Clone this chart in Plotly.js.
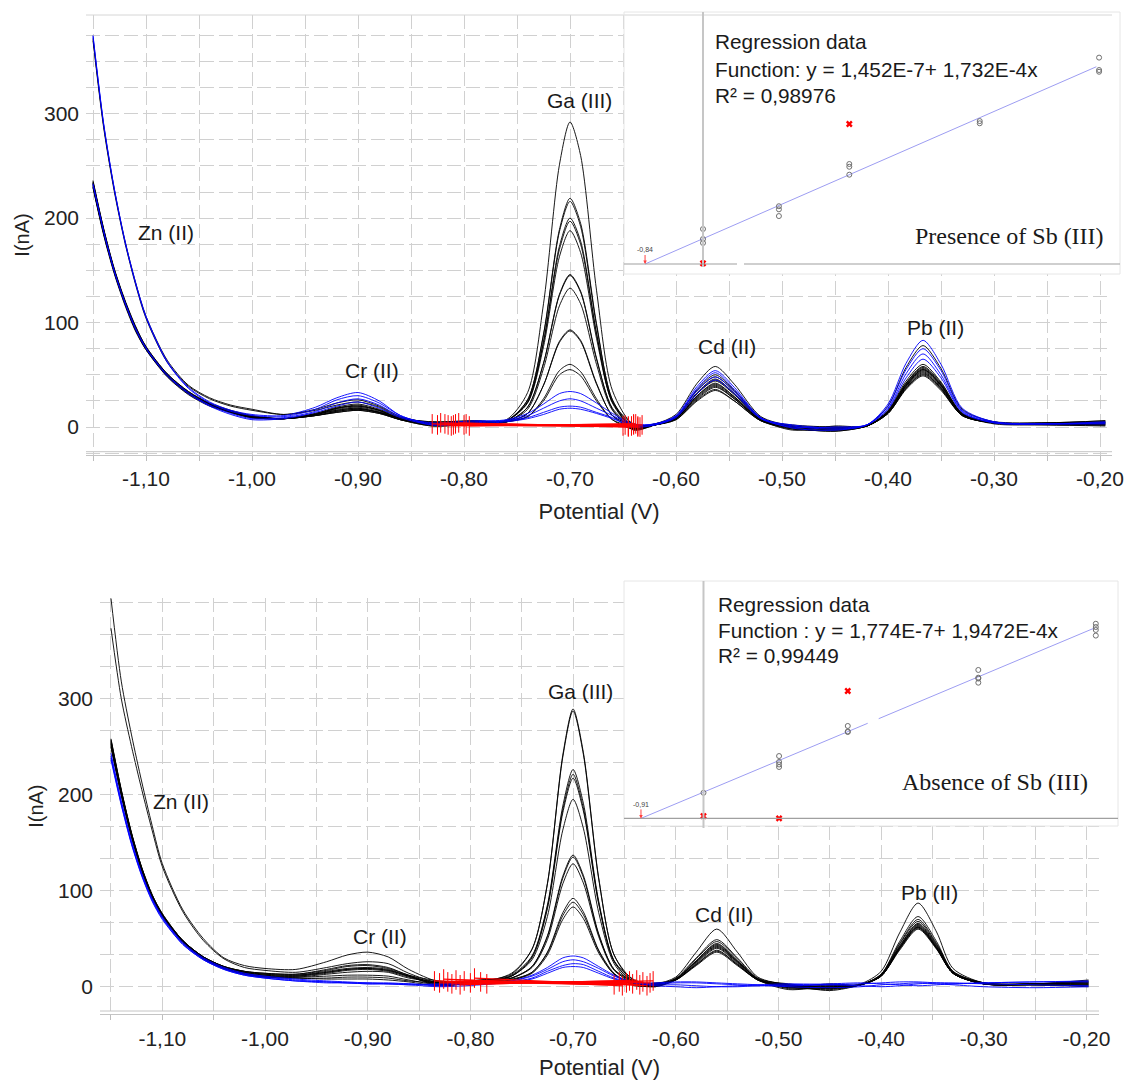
<!DOCTYPE html>
<html><head><meta charset="utf-8">
<script src="https://cdn.plot.ly/plotly-3.0.1.min.js"></script>
<style>html,body{margin:0;padding:0;background:#fff}#chart{width:1126px;height:1080px}</style>
</head><body><div id="chart"></div>
<script>
// ---------- potentials (V) at which each voltammogram was read ----------
const potentialTop = [-1.15,-1.14,-1.13,-1.12,-1.11,-1.10,-1.08,-1.06,-1.04,-1.02,-1.00,-0.97,-0.94,-0.92,-0.90,-0.88,-0.86,-0.83,-0.79,-0.76,-0.74,-0.725,-0.71,-0.70,-0.69,-0.675,-0.66,-0.64,-0.62,-0.60,-0.58,-0.563,-0.545,-0.52,-0.49,-0.45,-0.42,-0.40,-0.383,-0.367,-0.35,-0.33,-0.30,-0.25,-0.195];
const potentialBottom = [-1.15,-1.14,-1.13,-1.12,-1.11,-1.10,-1.08,-1.06,-1.04,-1.02,-1.00,-0.97,-0.94,-0.92,-0.90,-0.88,-0.86,-0.83,-0.79,-0.76,-0.74,-0.725,-0.71,-0.70,-0.69,-0.675,-0.66,-0.64,-0.62,-0.60,-0.58,-0.56,-0.54,-0.52,-0.49,-0.45,-0.42,-0.40,-0.382,-0.364,-0.346,-0.33,-0.30,-0.25,-0.198];

// ---------- top panel (presence of Sb(III)), current in nA ----------
const topBlack01 = [233,188,150,120,95,76,50,33,22,15,10, 8,12,18,20,16,8,3, 4,7,33,118,251,292,260,131,35,2, 3,12,42,58,41,10,1, -2,2,20,57,78,56,17,5,3,4];
const topBlack02 = [236,190,151,121,96,76,50,33,22,15,10, 8,13,19,22,17,9,4, 5,6,26,89,189,219,195,99,26,1, 3,10,36,50,35,9,0, -1,1,16,44,60,43,13,4,3,5];
const topBlack03 = [231,186,149,119,94,75,49,32,21,14,9, 8,12,17,19,15,8,2, 3,6,26,88,187,216,192,97,26,-2, 2,10,35,48,34,8,-2, -3,1,15,42,58,42,13,4,3,2];
const topBlack04 = [234,189,151,121,96,77,51,34,23,16,11, 8,12,16,18,14,8,5, 6,6,24,82,173,200,178,90,24,0, 2,9,32,45,32,8,1, 0,1,15,41,56,40,12,4,4,6];
const topBlack05 = [230,185,148,118,93,74,49,32,21,14,9, 8,13,18,21,16,8,3, 4,6,24,81,170,197,175,89,24,3, 2,9,32,44,31,7,-1, -4,1,14,40,55,40,12,4,3,3];
const topBlack06 = [235,190,152,122,97,77,51,34,22,15,10, 8,11,15,17,14,7,1, 3,6,23,77,163,188,167,85,23,-1, 2,8,30,42,29,7,0, -2,1,14,39,54,39,12,3,2,1];
const topBlack07 = [370,287,226,177,137,104,62,39,27,20,16, 12,17,23,26,20,10,4, 5,5,19,61,127,146,130,66,18,1, 2,8,30,41,29,7,-3, 1,1,14,39,53,38,12,4,4,5];
const topBlack08 = [232,187,149,119,94,75,50,33,22,15,10, 8,11,14,16,13,7,2, 4,5,19,61,126,145,129,65,17,-3, 2,8,29,40,28,7,1, -3,1,14,38,52,37,11,4,3,2];
const topBlack09 = [229,184,147,117,92,74,48,31,20,14,9, 8,12,18,20,16,8,3, 3,5,17,56,116,133,118,60,16,0, 2,8,27,38,27,6,-2, -1,1,13,37,50,36,11,4,3,4];
const topBlack10 = [372,289,228,179,139,106,64,40,28,21,17, 12,16,21,24,19,9,5, 6,5,13,40,82,93,83,42,11,2, 2,9,33,46,32,8,0, -2,1,15,42,57,41,12,5,4,6];
const topBlack11 = [234,188,150,120,95,76,50,33,22,15,10, 8,12,16,18,14,8,2, 4,5,13,40,81,92,82,41,11,-1, 2,8,28,39,27,7,2, 0,1,14,40,55,40,12,4,3,3];
const topBlack12 = [230,186,149,119,94,75,49,32,21,14,9, 8,11,15,17,14,7,4, 5,5,10,27,54,60,53,27,7,1, 2,7,26,36,25,6,-1, -4,1,13,37,51,37,11,4,2,2];
const topBlack13 = [233,187,150,120,95,76,50,33,22,15,10, 8,11,14,16,13,7,1, 3,5,10,25,50,55,49,25,7,-2, 2,7,25,35,25,6,0, -1,1,13,36,49,35,11,4,3,4];
const topBlue1 = [375,291,229,179,139,106,63,38,24,16,12, 11,19,28,33,25,11,3, 5,7,13,22,32,34,32,23,13,3, 3,11,39,54,38,9,1, -2,2,22,61,83,60,18,5,3,4];
const topBlue2 = [374,290,228,178,138,105,62,37,23,15,11, 10,17,26,30,23,11,2, 4,6,11,18,25,27,25,18,11,2, 3,10,37,52,36,9,-1, -3,2,20,55,75,54,16,5,3,4];
const topBlue3 = [233,188,150,120,95,76,50,33,21,13,8, 9,15,23,27,21,10,4, 6,6,9,14,19,20,19,14,9,0, 2,10,35,48,34,8,0, 0,2,18,51,70,50,15,4,3,5];
const topBlue4 = [232,187,149,119,94,75,49,32,20,12,7, 8,14,20,24,18,9,2, 3,5,8,12,17,18,17,13,8,1, 2,9,32,45,32,8,2, -1,2,17,47,65,47,14,4,3,3];
// peak-evaluation baselines (red)
const topRedStartV = [-0.830,-0.825,-0.822,-0.818,-0.815,-0.812,-0.808,-0.805,-0.800,-0.798,-0.795,-0.810];
const topRedEndV   = [-0.650,-0.648,-0.645,-0.642,-0.640,-0.638,-0.636,-0.634,-0.632,-0.645,-0.640,-0.636];
const topRedStartI = [3,2,4,3,2,1,3,4,2,3,1,2];
const topRedEndI   = [1,2,0,1,2,3,1,0,2,1,3,0];

// ---------- bottom panel (absence of Sb(III)), current in nA ----------
const botBlack01 = [404,318,262,213,168,128,80,50,30,22,19, 18,26,33,36,31,18,5, 5,14,39,107,241,289,244,113,33,6, 3,10,36,60,36,10,2, 0,3,16,56,87,57,19,4,3,4];
const botBlack02 = [373,300,250,205,163,125,78,48,29,20,17, 15,20,24,26,24,14,4, 6,13,39,107,239,287,242,112,33,4, 1,9,30,49,30,9,2, -2,2,13,47,73,47,16,4,3,3];
const botBlack03 = [258,205,160,124,96,76,48,31,21,16,14, 13,18,22,23,20,12,6, 4,12,32,85,188,226,191,89,27,7, 2,8,29,47,29,8,1, 1,2,13,45,70,45,16,4,3,5];
const botBlack04 = [256,204,159,123,95,75,48,31,21,16,14, 13,17,21,22,19,12,3, 7,11,31,83,184,221,186,87,27,3, 0,8,27,45,27,8,0, -3,2,12,44,68,44,15,4,2,2];
const botBlack05 = [254,203,158,122,95,75,47,30,20,15,13, 12,16,19,20,18,11,2, 5,11,30,81,181,217,183,86,26,5, 3,8,27,44,27,8,-1, 2,2,12,42,66,43,15,3,3,6];
const botBlack06 = [257,205,160,124,96,76,48,31,21,16,13, 12,15,18,19,17,11,4, 3,11,28,73,163,195,165,77,24,2, 1,8,26,43,26,8,3, -1,2,12,42,65,42,15,3,2,1];
const botBlack07 = [252,201,157,121,94,74,47,30,20,15,12, 11,15,18,19,17,11,1, 6,9,21,53,115,137,116,55,18,6, 2,8,26,42,26,8,-2, 0,2,12,41,64,41,14,3,3,4];
const botBlack08 = [255,203,159,123,95,75,48,31,21,15,12, 11,14,17,18,16,10,3, 4,9,21,52,113,135,114,54,18,3, 4,7,25,41,25,7,2, -4,2,11,40,63,41,14,3,2,0];
const botBlack09 = [253,202,158,122,94,74,47,30,20,14,11, 10,13,15,16,15,9,5, 5,9,20,49,107,128,108,52,17,5, 1,7,24,40,24,7,-3, 1,2,11,40,62,40,14,3,3,7];
const botBlack10 = [250,200,156,121,93,73,46,29,19,14,11, 10,11,12,12,11,7,2, 7,8,15,36,77,92,78,38,14,1, 2,7,23,38,23,7,1, -2,2,11,40,62,40,14,3,2,2];
const botBlack11 = [251,200,157,121,94,74,47,30,19,13,10, 9,9,10,10,9,6,4, 3,7,15,35,74,88,75,37,13,4, 0,7,23,37,23,7,0, 3,2,11,39,61,40,14,3,3,5];
const botBlack12 = [249,199,155,120,93,73,46,29,19,13,10, 9,8,8,8,7,5,1, 5,7,14,33,70,83,71,35,13,2, 3,7,22,36,22,7,-1, -1,2,11,38,60,39,14,3,2,3];
const botBlue1 = [240,192,150,117,91,72,45,29,19,13,10, 7,5,4,4,3,3,2, 3,6,12,20,30,32,30,21,12,4, 3,4,4,3,2,1,1, 2,3,4,5,5,4,3,4,5,6];
const botBlue2 = [238,190,149,116,90,71,44,28,18,12,9, 6,5,4,3,3,2,3, 4,6,11,18,26,28,26,19,11,4, 2,2,1,0,0,1,2, 3,4,3,2,1,2,3,4,5,5];
const botBlue3 = [236,189,148,115,89,70,44,28,18,12,9, 6,4,4,3,3,2,0, 2,5,9,16,22,24,23,16,9,4, 1,0,-1,0,1,2,3, 2,1,0,1,3,4,4,3,2,1];
const botBlue4 = [243,194,152,118,92,73,46,30,20,14,11, 8,6,5,4,4,3,1, 5,5,8,14,20,21,20,14,8,4, 4,5,5,4,3,2,0, -1,0,2,3,4,3,2,0,-1,0];
const botRedStartV = [-0.835,-0.830,-0.826,-0.822,-0.818,-0.814,-0.810,-0.806,-0.800,-0.796,-0.790,-0.784];
const botRedEndV   = [-0.660,-0.655,-0.652,-0.648,-0.645,-0.642,-0.638,-0.635,-0.632,-0.628,-0.625,-0.622];
const botRedStartI = [6,4,8,5,3,7,2,6,4,9,5,3];
const botRedEndI   = [2,5,1,4,6,3,7,2,5,1,4,6];

// ---------- standard-addition insets ----------
const topAddX = [0,0,0, 1.10,1.10,1.10, 2.12,2.12,2.12, 4.01,4.01, 5.74,5.74,5.74];
const topAddY = [203,145,122, 335,317,278, 580,564,518, 829,816, 1197,1125,1115];
const topOutX = [0, 2.12];
const topOutY = [4, 812];
const topFitX = [-0.84, 5.70];
const topFitY = [0, 1144];
const botAddX = [0, 1.10,1.10,1.10,1.10, 2.10,2.10,2.10, 4.00,4.00,4.00,4.00, 5.71,5.71,5.71,5.71];
const botAddY = [173, 421,381,364,347, 624,587,583, 1002,950,944,916, 1314,1292,1272,1234];
const botOutX = [0, 1.10, 2.10];
const botOutY = [16, 0, 860];
const botFitX = [-0.91, 2.39, null, 2.55, 5.69];
const botFitY = [0, 642, null, 673, 1285];

// ---------- tick labels & texts ----------
const xTickVals = [-1.1,-1.0,-0.9,-0.8,-0.7,-0.6,-0.5,-0.4,-0.3,-0.2];
const xTickText = ['-1,10','-1,00','-0,90','-0,80','-0,70','-0,60','-0,50','-0,40','-0,30','-0,20'];
const yTickVals = [0, 100, 200, 300];
const peakNames = ['Zn (II)','Cr (II)','Ga (III)','Cd (II)','Pb (II)'];

// ================= build =================
const SANS = 'Liberation Sans, Arial, sans-serif';
const SERIF = 'Liberation Serif, Times New Roman, serif';
const GRID = '#d0d0d0';
const traces = [];
function curve(x, y, color, xa, ya){
  traces.push({type:'scatter', mode:'lines', x:x, y:y, xaxis:xa, yaxis:ya,
    line:{color:color, width:1, shape:'spline', smoothing:0.8}, hoverinfo:'skip'});
}
[topBlack01,topBlack02,topBlack03,topBlack04,topBlack05,topBlack06,topBlack07,topBlack08,topBlack09,topBlack10,topBlack11,topBlack12,topBlack13]
  .forEach(y => curve(potentialTop, y, 'rgba(0,0,0,0.9)', 'x', 'y'));
[topBlue1,topBlue2,topBlue3,topBlue4].forEach(y => curve(potentialTop, y, 'rgba(0,0,255,0.9)', 'x', 'y'));
[botBlack01,botBlack02,botBlack03,botBlack04,botBlack05,botBlack06,botBlack07,botBlack08,botBlack09,botBlack10,botBlack11,botBlack12]
  .forEach(y => curve(potentialBottom, y, 'rgba(0,0,0,0.9)', 'x3', 'y3'));
[botBlue1,botBlue2,botBlue3,botBlue4].forEach(y => curve(potentialBottom, y, 'rgba(0,0,255,0.9)', 'x3', 'y3'));

function redBaselines(sv, ev, si, ei, xa, ya){
  const x = [], y = [];
  sv.forEach((s, i) => { x.push(s, ev[i], null); y.push(si[i], ei[i], null); });
  traces.push({type:'scatter', mode:'lines+markers', x:x, y:y, xaxis:xa, yaxis:ya, connectgaps:false,
    line:{color:'#ff0000', width:1.2},
    marker:{symbol:'line-ns-open', size:14, color:'#ff0000', line:{color:'#ff0000', width:1}}, hoverinfo:'skip'});
}
redBaselines(topRedStartV, topRedEndV, topRedStartI, topRedEndI, 'x', 'y');
redBaselines(botRedStartV, botRedEndV, botRedStartI, botRedEndI, 'x3', 'y3');

function inset(fx, fy, ax, ay, ox, oy, xa, ya){
  traces.push({type:'scatter', mode:'lines', x:fx, y:fy, xaxis:xa, yaxis:ya, connectgaps:false,
    line:{color:'#9d9df2', width:1}, hoverinfo:'skip'});
  traces.push({type:'scatter', mode:'markers', x:ax, y:ay, xaxis:xa, yaxis:ya,
    marker:{symbol:'circle-open', size:5, color:'#707070', line:{width:1}}, hoverinfo:'skip'});
  traces.push({type:'scatter', mode:'markers', x:ox, y:oy, xaxis:xa, yaxis:ya,
    marker:{symbol:'x', size:6, color:'#ff0000'}, hoverinfo:'skip'});
}
inset(topFitX, topFitY, topAddX, topAddY, topOutX, topOutY, 'x2', 'y2');
inset(botFitX, botFitY, botAddX, botAddY, botOutX, botOutY, 'x4', 'y4');

const W = 1126, H = 1080;
const px = v => v / W, py = v => 1 - v / H;

function mainX(domain, range, anchor, standoff){
  return {domain:domain, range:range, anchor:anchor, tickmode:'array', tickvals:xTickVals, ticktext:xTickText,
    ticks:'outside', ticklen:5, tickcolor:'#bdbdbd', tickfont:{size:21, color:'#222', family:SANS},
    showgrid:true, gridcolor:GRID, gridwidth:1, griddash:'14px,5px',
    minor:{tick0:0, dtick:0.05, ticks:'outside', ticklen:5, tickcolor:'#bdbdbd', showgrid:true, gridcolor:GRID, gridwidth:1, griddash:'14px,5px'},
    showline:true, linecolor:'#c4c4c4', linewidth:1, zeroline:false, fixedrange:true,
    title:{text:'Potential (V)', font:{size:22, color:'#222', family:SANS}, standoff:standoff}};
}
function mainY(domain, range, anchor, minorStep){
  return {domain:domain, range:range, anchor:anchor, tickmode:'array', tickvals:yTickVals, ticks:'',
    tickfont:{size:21, color:'#222', family:SANS}, ticklabelstandoff:6,
    showgrid:true, gridcolor:GRID, gridwidth:1, griddash:'14px,5px',
    minor:{tick0:0, dtick:minorStep, showgrid:true, gridcolor:GRID, gridwidth:1, griddash:'14px,5px'},
    showline:false, zeroline:false, fixedrange:true,
    title:{text:'I(nA)', font:{size:20, color:'#222', family:SANS}, standoff:8}};
}
function insetAxis(domain, range, anchor){
  return {domain:domain, range:range, anchor:anchor, visible:false, fixedrange:true};
}

const annotations = [];
function peakLabels(pos, xa, ya){
  peakNames.forEach((t, i) => annotations.push({text:t, x:pos[i][0], y:pos[i][1], xref:xa, yref:ya,
    showarrow:false, xanchor:'center', yanchor:'middle', font:{size:21, color:'#1a1a1a', family:SANS}}));
}
peakLabels([[-1.081,186],[-0.887,54],[-0.691,313],[-0.552,77],[-0.355,95]], 'x', 'y');
peakLabels([[-1.082,193],[-0.888,52],[-0.693,307],[-0.553,75],[-0.353,98]], 'x3', 'y3');

function txt(t, x, y, size, fam){
  annotations.push({text:t, x:px(x), y:py(y), xref:'paper', yref:'paper', showarrow:false,
    xanchor:'left', yanchor:'middle', font:{size:size, color:'#1a1a1a', family:fam}});
}
txt('Regression data', 713, 42, 20.8, SANS);
txt('Function: y = 1,452E-7+ 1,732E-4x', 713, 69, 20.8, SANS);
txt('R² = 0,98976', 713, 95, 20.8, SANS);
txt('Presence of Sb (III)', 913, 236, 24, SERIF);
txt('Regression data', 716, 604, 20.8, SANS);
txt('Function : y = 1,774E-7+ 1,9472E-4x', 716, 630, 20.8, SANS);
txt('R² = 0,99449', 716, 655, 20.8, SANS);
txt('Absence of Sb (III)', 900, 782, 24, SERIF);

function interceptArrow(x, label, xa, ya){
  annotations.push({text:label, x:x, y:0, xref:xa, yref:ya, showarrow:true, arrowhead:2, arrowsize:0.7,
    arrowwidth:1, arrowcolor:'#ff4040', ax:0, ay:-14, font:{size:7, color:'#444', family:SANS}});
}
interceptArrow(-0.84, '-0,84', 'x2', 'y2');
interceptArrow(-0.91, '-0,91', 'x4', 'y4');

const shapes = [
  // double bottom axis line & top frame
  {type:'line', xref:'x domain', yref:'paper', x0:0, x1:1, y0:py(451.7), y1:py(451.7), line:{color:'#c4c4c4', width:1}},
  {type:'line', xref:'x3 domain', yref:'paper', x0:0, x1:1, y0:py(1011), y1:py(1011), line:{color:'#c4c4c4', width:1}},
  {type:'line', xref:'x domain', yref:'paper', x0:0, x1:1, y0:py(15), y1:py(15), line:{color:'#d6d6d6', width:1}},
  // inset frames
  {type:'rect', xref:'paper', yref:'paper', x0:px(624), x1:px(1120), y0:py(274), y1:py(12), line:{color:'#e6e6e6', width:1}},
  {type:'rect', xref:'paper', yref:'paper', x0:px(624), x1:px(1118), y0:py(826), y1:py(581), line:{color:'#e6e6e6', width:1}},
  // inset axes (x = 0 and y = 0 lines)
  {type:'line', xref:'x2', yref:'paper', x0:0, x1:0, y0:py(267), y1:py(12), line:{color:'#c6c6c6', width:2}},
  {type:'line', xref:'paper', yref:'y2', x0:px(624), x1:px(737), y0:0, y1:0, line:{color:'#a0a0a0', width:1.2}},
  {type:'line', xref:'paper', yref:'y2', x0:px(744), x1:px(1120), y0:0, y1:0, line:{color:'#a0a0a0', width:1.2}},
  {type:'line', xref:'x4', yref:'paper', x0:0, x1:0, y0:py(828), y1:py(581), line:{color:'#c6c6c6', width:2}},
  {type:'line', xref:'paper', yref:'y4', x0:px(624), x1:px(1118), y0:0, y1:0, line:{color:'#a0a0a0', width:1.2}}
];

const layout = {
  width:W, height:H, margin:{l:0, r:0, t:0, b:0}, autosize:false,
  paper_bgcolor:'#ffffff', plot_bgcolor:'#ffffff', showlegend:false, hovermode:false,
  separators:', ', font:{family:SANS, color:'#222'},
  xaxis: mainX([px(86), px(1112)], [-1.1566, -0.1887], 'y', 14),
  yaxis: mainY([py(455), py(15)], [-26.8, 394.5], 'x', 25),
  xaxis2: insetAxis([px(624), px(1120)], [-1.145, 6.043], 'y2'),
  yaxis2: insetAxis([py(274), py(12)], [-58, 1461.6], 'x2'),
  xaxis3: mainX([px(100), px(1099)], [-1.1607, -0.1878], 'y3', 12),
  yaxis3: mainY([py(1014.3), py(598)], [-28.7, 404.5], 'x3', 100/3),
  xaxis4: insetAxis([px(624), px(1118)], [-1.157, 6.033], 'y4'),
  yaxis4: insetAxis([py(826), py(581)], [-51.3, 1602.5], 'x4'),
  annotations:annotations, shapes:shapes
};
Plotly.newPlot('chart', traces, layout, {staticPlot:true, displayModeBar:false});
</script></body></html>
